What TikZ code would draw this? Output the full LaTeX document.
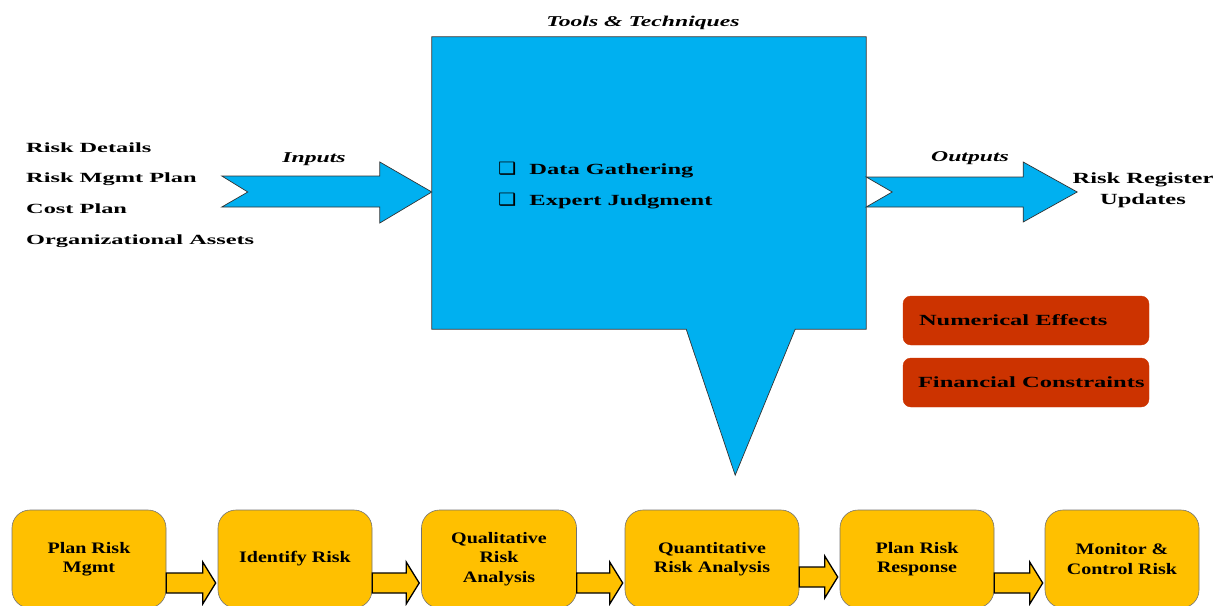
\documentclass[tikz,border=0pt]{standalone}
\usepackage{fontspec}
\setmainfont{Liberation Serif}
\newfontfamily\lblfont[FakeStretch=1.74]{Liberation Serif}
\newfontfamily\midfont[FakeStretch=1.58]{Liberation Serif}
\newfontfamily\boxfont[FakeStretch=1.25]{Liberation Serif}
\newfontfamily\symfont[FakeStretch=1.2]{DejaVu Sans}
\usetikzlibrary{calc}

\definecolor{skyblue}{HTML}{00B0F0}
\definecolor{amber}{HTML}{FFC000}
\definecolor{rust}{HTML}{CC3300}

\tikzset{
  bluepart/.style={fill=skyblue, draw=black!80, line width=0.7pt},
  inlbl/.style={anchor=base west, inner sep=0pt, font=\lblfont\fontsize{14}{17}\selectfont\bfseries},
  hdlbl/.style={anchor=base, inner sep=0pt, font=\midfont\fontsize{15}{18}\selectfont\bfseries\itshape},
  txt/.style={inner sep=0pt, align=center, font=\midfont\fontsize{15.5}{21}\selectfont\bfseries},
  redbox/.style={fill=rust, draw=rust, rounded corners=8pt, minimum width=246pt, minimum height=49pt},
  stagebox/.style={fill=amber, draw=black!55, line width=0.6pt, rounded corners=18pt, minimum height=98pt, align=center, font=\boxfont\fontsize{16}{19.5}\selectfont\bfseries},
  yarrow/.style={fill=amber, draw=black, line width=1.3pt},
}

\begin{document}
\begin{tikzpicture}[x=1pt,y=1pt,yscale=-1]
  \useasboundingbox (0,0) rectangle (1226,605);

  % tools & techniques box with its pointer
  \node[minimum width=434pt, minimum height=292pt, inner sep=0pt] (tools) at (649,183) {};
  \draw[bluepart] (tools.north west) -- (tools.north east) -- (tools.south east) -- ++(-71,0) -- ++(-60,146) coordinate (ptip) -- ++(-49,-146) -- (tools.south west) -- cycle;

  % inputs / outputs arrows
  \coordinate (intip) at (tools.west |- 0,192);
  \draw[bluepart] (intip) -- ++(-52,-30) -- ++(0,14) -- ++(-158,0) -- ++(26,16) -- ++(-26,15) -- ++(158,0) -- ++(0,16) -- cycle;
  \coordinate (outtail) at (tools.east |- 0,192);
  \draw[bluepart] (outtail) ++(0,-15) -- ++(157,0) -- ++(0,-15) -- ++(54,30) -- ++(-54,30) -- ++(0,-15) -- ++(-157,0) -- ++(26,-15) -- cycle;

  \node[hdlbl] (tt) at (643,27) {Tools \& Techniques};
  \node[hdlbl] (inlabel) at (314,162) {Inputs};
  \node[hdlbl] (outlabel) at (970,161) {Outputs};

  \foreach \t [count=\i] in {Risk Details, Risk Mgmt Plan, Cost Plan, Organizational Assets}
    \node[inlbl] (in\i) at (26,{121.3+30.7*\i}) {\t};

  \node[txt, anchor=base west] (dg) at (498,174) {{\symfont\fontsize{17}{17}\selectfont ❑}\hspace{13pt}Data Gathering};
  \node[txt, anchor=base west] (ej) at (498,205) {{\symfont\fontsize{17}{17}\selectfont ❑}\hspace{13pt}Expert Judgment};

  \node[txt] (rru) at (1143,190) {Risk Register\\Updates};

  % constraints
  \node[redbox] (numeff) at (1026,320.5) {};
  \node[txt, anchor=west] (numtxt) at ([xshift=16pt]numeff.west) {Numerical Effects};
  \node[redbox] (fincon) at (1026,382.5) {};
  \node[txt, anchor=west] (fintxt) at ([xshift=15pt]fincon.west) {Financial Constraints};

  % process stages
  \node[stagebox, minimum width=154pt] (p1) at (89,559) {Plan Risk\\Mgmt};
  \node[stagebox, minimum width=154pt] (p2) at (295,559) {Identify Risk};
  \node[stagebox, minimum width=155pt] (p3) at (499,559) {Qualitative\\Risk\\Analysis};
  \node[stagebox, minimum width=174pt] (p4) at (712,559) {Quantitative\\Risk Analysis};
  \node[stagebox, minimum width=154pt] (p5) at (917,559) {Plan Risk\\Response};
  \node[stagebox, minimum width=154pt] (p6) at (1122,559) {Monitor \&\\Control Risk};

  \foreach \a/\b/\y in {p1/p2/583, p2/p3/583, p3/p4/583, p4/p5/577, p5/p6/583}
    \draw[yarrow] (\a.east |- 0,\y) ++(0,-10) -- ($(\b.west |- 0,\y)+(-15,-10)$) -- ++(0,-11) -- ++(13,21) -- ++(-13,21) -- ++(0,-11) -- ($(\a.east |- 0,\y)+(0,10)$) -- cycle;
\end{tikzpicture}
\end{document}
